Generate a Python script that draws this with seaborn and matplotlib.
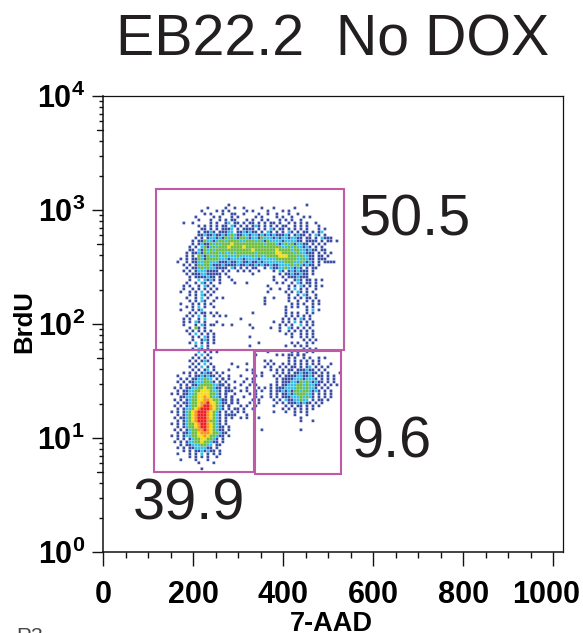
import numpy as np
import pandas as pd
import matplotlib
matplotlib.use('Agg')
import matplotlib.pyplot as plt
from matplotlib.patches import Rectangle
from matplotlib.ticker import FixedLocator, FixedFormatter, NullFormatter
import seaborn as sns

# density, one string per BrdU bin (top to bottom), one char per 7-AAD bin
# . empty, 1 blue, 2 cyan, 3 green, 4 yellow, 5 orange, 6 red
arch_rows = [
    "...................1.........................1",
    "............1.....1..1..1.....1...1......1",
    "..........1....1.1.1.....1.1....1....1.1",
    "...........1.1...1..11..1....1..1..1...1..1",
    "........1.....1.1...1.1.....1.1....1.1..1...1.1",
    ".........1...1..1.1.11...1.1..1.1...1.1.1..1",
    "....1..1.....1.1..12.11.1.11.1.1.11.1..1.1.1.1..1",
    ".........1.1.1.1.11.21.1.1.121.1.1.1.11..1.1.1...1",
    "..........11.1.1.1112.1.1111.1.1.21.11.1.1.1.1...1.1",
    ".........1.1121.11122.1121211.1.21.1.1.21.1.11.1.12",
    ".........1121121121232112212212121211121.1211.1.21.1",
    "........1.1.12212132321332122132221212212211.11.1.2111",
    ".......1.11322123323333223332321322221222211.1111.1.11.1",
    ".......1.1211323233343333333333233321232312211.1.1.1",
    "......1.1.2312323334333343333333333332232322121.1.1",
    "......11.2132323333333333334333333343333233221211.11",
    ".....1.11213233323223233333323333334433332322111.1.1.1",
    ".....1.1.321322322322232222323223333444333232211.11.1",
    "...1.1.11321333322212222122221222223333333223211.111",
    "..1..1.11223322211121122112112122222223332232121.1.1111",
    "....1.1.1323321112111121121121211211222232321211.1",
    ".....1.112323221111.21.1.1.11..1.21122322121.1.11",
    "....1.1.12221111.1.1..1.1.1..1....1.21.1212111.1",
    ".....1.1112211111.1........1........1.11211211.1",
    "......1.1111211.1..1..............1..1.1112111",
    "......1..2.2121.1...1.............1...1..121.11.1.1",
    ".....1..1.21.1..1....1...1.........1.1..1.21.11.1",
    "....1.1..1.21.1.................1......1.1.21.1.1.1",
    "....1..1.1.1.1.1.................1..1..1.2.1.1..1",
    "...1..1.1.2.1.1.................1.....1.1.21.1.1",
    "......1.1.21.1.........................1..1.21..1",
    ".....1..1.2.1..1.1.............1..1....1.1.1.11.1",
    "......1.1.21..1................1.......1..1..1.1.1",
    "...1...1.1.1.1.................1........1.1.1..1.1",
    ".....1.1.2.1..1.......................1.1.1..1.1",
    "...1...1.12...........................1......1.2.1",
    "......1.1.11.1.1...........1..........1.1.1..1.1",
    ".....1.1.2.1..1.1.1...................1.1.1.1.1",
    "....1.1..1.2...........1.............1.1.1.21.1",
    "....1.1.21.1...1..................1..1.1.2.1.1.1",
    "....1...1.21.11..1..1.....1.........1.1.1..2.1.1",
    "......1.31.1...............1.....1..1..21.1.1.1",
    ".....1.1.1.1.1......................1..1.1.1.1.1",
    "......1.2.1.1.1.......................1.1..1.1.1",
    ".......1.1.21.1...........1.............1..1.1.1",
    ".......1..121.1.............................1.1.1",
    "......1.2.1.1.1..............1..........1.1..1.1",
    "........1.2.1.............1...........1..1.1.1",
    ".......1.21.1...............................1.1.1",
    ".........2.1.1.1................1.......1.1..1.1",
    "........1.2.1...............1......1.1..1.1.1",
    ".......1.1.1.1",
]
left_rows = [
    "......1.1.121",
    ".......1.1.2.1",
    "......1.1.2.1.1",
    ".......1.1.12.1",
    "....1.1.1.1211.1.1",
    "..1...1.1121211.1..1",
    "...1.1.1122322.1.1",
    "..1.1.112223321.1.1",
    "...1.1.11233332211.1",
    ".1.1.112233433211.1",
    "..1.1122334443221.1.1",
    "1.1.1122344443321.1",
    "...11223344543221.1.1",
    ".1.1.12334455433211.1",
    "..1.112334556443211.1",
    ".1.1.1233456654321.1",
    "..1.12234566654321.1.1",
    "1.1.1234566654321.1",
    "..1.1234566654321.1.1",
    ".1.11234566654321.1",
    "..1.1234566653321.1",
    "1.1.1233456654321.1",
    "..1.12334566543211.1",
    ".1.1.1233556543211.1",
    "..1.112334555433211",
    "1.1.12233445433211.1",
    "..1.1.1233443321.1",
    ".1.1.12233433211.1",
    "...1.112223322.11",
    "..1.1.11222211.1",
    "....1.1.1121211.1",
    "..1...1.1.2.1.1.1",
    "......1.1.1.1..1",
    "...1....1...1",
    ".........1....1",
    "",
    "..........1",
]
right_rows = [
    "......................1..1.1",
    "......................1.1..1.1..1.1",
    "..............1.1.....1.1.1.1.1.1",
    "...1....1......1.1..1.1.1.1.1.1.1...1",
    ".....1........1.1..1.1.11.1.12.1.1.1",
    "..1.....1.1.....1.1.1.11.111211.1.1",
    "..........1..1....1.1.1.11211211.1.1...1",
    "......1....1.1...1.1.1111221121.11.1.1",
    "1.1.....1.1.......1.111122212221.1.1.1",
    "....1..1..1.......1.11122132321211.1.1",
    "1.....1..1.1....1.1.1122233232211.1.1.1",
    "..1.1...1...1.1.1.11122223323221.1.1",
    "..1...1.1..1.1..1.112121332332121.1.1",
    ".1..1....1.1....1.1.11212333221.1.1.1",
    "...1...1...1.1..1.1.11122232321.1.1.1",
    "1..1.1....1.1....1.1.21122322.1.11.1",
    "...1.1...1..1.....1.1.11121211.1.1",
    "..1...1.1..1.....1...1.1.11.1.1.1",
    ".....1.1..1.........1.1.1.1.1.1",
    "...1.1.1.........1...1..1.1.1",
    "..1.1...1...............1...1",
    "...1..1.1...1.............1",
    "..........................1...1",
    "",
    "...",
    ".............1............1",
]
level_colors = {1: '#3a4fa3', 2: '#36bfe8', 3: '#6fbe44', 4: '#f7dc14', 5: '#f7941d', 6: '#ec2024'}
level_sizes = {1: 3.8, 2: 4.0, 3: 4.8, 4: 4.8, 5: 4.8, 6: 4.8}

gate_upper_x = [118, 536]
gate_upper_y = [59, 1528]
gate_left_x = [113, 336]
gate_left_y = [5.03, 59]
gate_right_x = [338, 529]
gate_right_y = [4.84, 57.5]
gate_names = ['50.5', '39.9', '9.6']

x_major = [0, 200, 400, 600, 800, 1000]
x_minor = [50, 100, 150, 250, 300, 350, 450, 500, 550, 650, 700, 750, 850, 900, 950]
y_major = [1, 10, 100, 1000, 10000]
y_major_labels = ['10$^{\\mathbf{0}}$', '10$^{\\mathbf{1}}$', '10$^{\\mathbf{2}}$', '10$^{\\mathbf{3}}$', '10$^{\\mathbf{4}}$']

sns.set_style('ticks')
plt.rcParams['font.family'] = ['Liberation Sans', 'DejaVu Sans']
plt.rcParams['mathtext.fontset'] = 'custom'
plt.rcParams['mathtext.bf'] = 'Liberation Sans:bold'
plt.rcParams['mathtext.rm'] = 'Liberation Sans:bold'

# table of occupied bins
x_bins = 153 + 6.67 * np.arange(70)
y_bins = 10 ** (3.044 - 0.0263 * np.arange(100))
records = []
for rows, row0, col0 in [(arch_rows, 0, 0), (left_rows, 52, 0), (right_rows, 50, 17)]:
    for j, row in enumerate(rows):
        for i, ch in enumerate(row):
            if ch != '.':
                records.append((x_bins[col0 + i], y_bins[row0 + j], int(ch)))
df = pd.DataFrame(records, columns=['aad', 'brdu', 'level']).sort_values('level')

fig = plt.figure(figsize=(5.83, 6.33), dpi=100)
ax = fig.add_axes([103 / 583, 1 - 552 / 633, 460 / 583, 456 / 633])
ax.set_yscale('log')
sns.scatterplot(data=df, x='aad', y='brdu', hue='level', palette=level_colors, size='level', sizes=level_sizes,
                marker='s', linewidth=0, legend=False, ax=ax, zorder=2)
# no pixel snapping, the dots go soft like in the original
ax.collections[0].set_snap(False)
ax.set_xlim(0, 1022)
ax.set_ylim(1, 10000)
ax.set_xlabel('')
ax.set_ylabel('')

# gates
for gx, gy in [(gate_upper_x, gate_upper_y), (gate_left_x, gate_left_y), (gate_right_x, gate_right_y)]:
    ax.add_patch(Rectangle((gx[0], gy[0]), gx[1] - gx[0], gy[1] - gy[0], fill=False,
                           edgecolor='#bd5ba6', linewidth=1.5, zorder=3))

for sp in ax.spines.values():
    sp.set_linewidth(0.9)
    sp.set_color('#111111')
ax.spines['left'].set_linewidth(1.1)
ax.spines['bottom'].set_linewidth(1.1)

ax.xaxis.set_major_locator(FixedLocator(x_major))
ax.xaxis.set_minor_locator(FixedLocator(x_minor))
ax.xaxis.set_major_formatter(FixedFormatter([str(v) for v in x_major]))
ax.xaxis.set_minor_formatter(NullFormatter())
ax.yaxis.set_major_locator(FixedLocator(y_major))
ax.yaxis.set_major_formatter(FixedFormatter(y_major_labels))
ax.yaxis.set_minor_formatter(NullFormatter())
y_minor_short = [m * 10 ** d for d in range(4) for m in (2, 3, 4, 6, 7, 8, 9)]
ax.yaxis.set_minor_locator(FixedLocator(y_minor_short))
ax.tick_params(axis='x', which='major', length=10, width=1, pad=10, labelsize=22, color='#111111', labelcolor='black')
ax.tick_params(axis='x', which='minor', length=4.5, width=1, color='#111111')
ax.tick_params(axis='y', which='major', length=8, width=1, pad=5, labelsize=22, color='#111111', labelcolor='black')
ax.tick_params(axis='y', which='minor', length=3, width=1, color='#111111')
for y5 in [5, 50, 500, 5000]:
    ax.plot([-0.012, 0], [y5, y5], transform=ax.get_yaxis_transform(), color='#111111', lw=1, clip_on=False)
for lab in ax.get_xticklabels() + ax.get_yticklabels():
    lab.set_fontweight('bold')
# the 1000 label sits left of its tick in the original
last = ax.get_xticklabels()[-1]
last.set_ha('right')
last.set_x(1000)
last.set_transform(last.get_transform() + matplotlib.transforms.ScaledTranslation(27 / 100, 0, fig.dpi_scale_trans))

# texts are placed in figure pixels
def px_text(x, y, s, **kw):
    fig.text(x / 583, 1 - y / 633, s, **kw)

px_text(333, 56, 'EB22.2  No DOX', ha='center', va='baseline', fontsize=41.2, color='#231f20')
px_text(415, 236, gate_names[0], ha='center', va='baseline', fontsize=41.5, color='#231f20')
px_text(189, 519, gate_names[1], ha='center', va='baseline', fontsize=41.5, color='#231f20')
px_text(391, 457, gate_names[2], ha='center', va='baseline', fontsize=41.5, color='#231f20')
px_text(331, 631, '7-AAD', ha='center', va='baseline', fontsize=19.5, fontweight='bold', color='black')
px_text(24, 322, 'BrdU', ha='center', va='center', rotation=90, fontsize=18.5, fontweight='bold', color='black')
px_text(16, 642, 'R3', ha='left', va='baseline', fontsize=15, color='#444444')

fig.savefig('out.png', dpi=100)
